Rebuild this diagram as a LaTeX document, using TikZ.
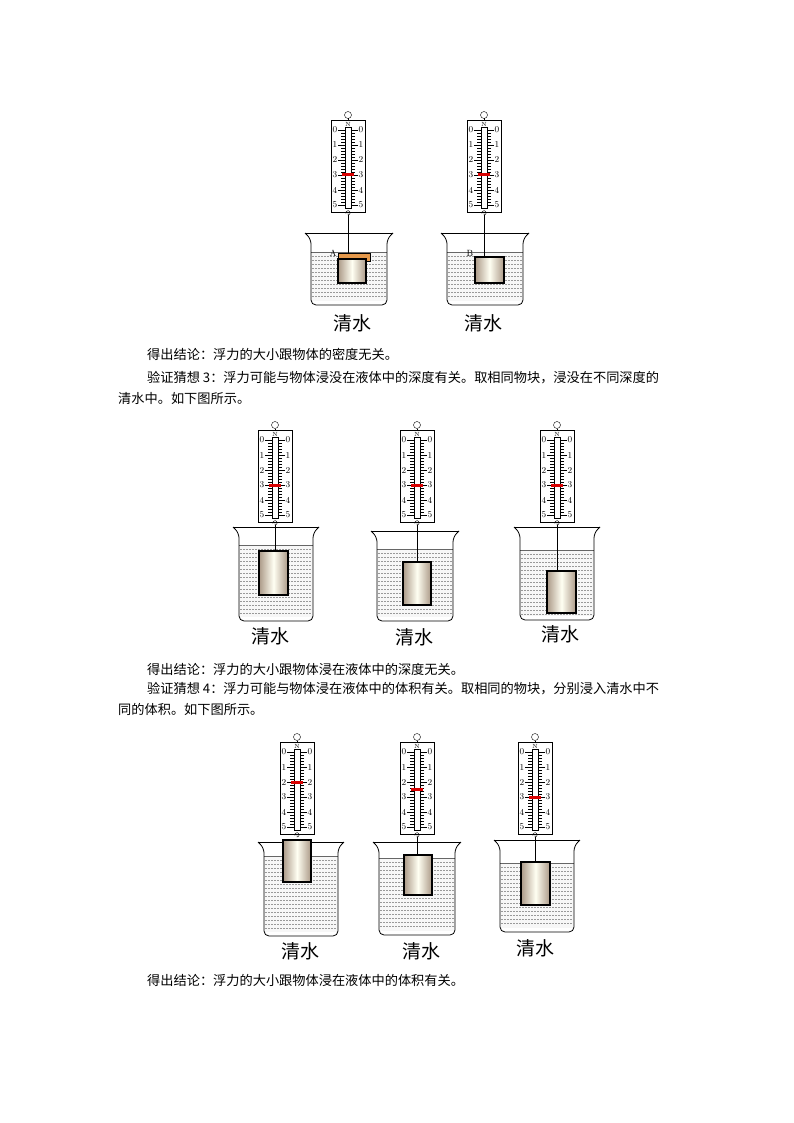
\documentclass[tikz,border=0pt]{standalone}
\usepackage{fontspec}
\newfontfamily\cjk{Noto Sans CJK SC}
\begin{document}
\begin{tikzpicture}[x=1pt,y=-1pt,
  lbl/.style={font=\cjk\fontsize{19}{19}\selectfont,inner sep=0},
  para/.style={font=\cjk\fontsize{13.2}{14}\selectfont,inner sep=0,anchor=west},
  num/.style={font=\fontsize{9}{9}\selectfont,inner sep=0}]
\useasboundingbox (0,0) rectangle (794,1123);
\newcommand\myscale[3]{%
  \draw[fill=white] (#1-17,#2) rectangle (#1+17,#2+92);
  \draw (#1,#2-5) circle (3.5);
  \draw (#1,#2-1.5)--(#1,#2);
  \draw (#1-3,#2+7) rectangle (#1+3,#2+88);
  \node[num,font=\fontsize{6}{6}\selectfont] at (#1,#2+4) {N};
  \foreach \i in {0,...,5}{
    \node[num] at (#1-13,#2+10+\i*15) {\i};
    \node[num] at (#1+13,#2+10+\i*15) {\i};
    \draw (#1-10,#2+10+\i*15)--(#1-3,#2+10+\i*15);
    \draw (#1+10,#2+10+\i*15)--(#1+3,#2+10+\i*15);
  }
  \foreach \j in {0,...,25}{
    \draw[line width=0.5pt] (#1-7,#2+10+\j*3)--(#1-3,#2+10+\j*3);
    \draw[line width=0.5pt] (#1+7,#2+10+\j*3)--(#1+3,#2+10+\j*3);
  }
  \fill[red!85!black] (#1-6,#2+8.5+#3*15) rectangle (#1+6,#2+11.5+#3*15);
  \draw (#1,#2+92)--(#1,#2+95) arc (90:-200:2.2);
}
\newcommand\mybeaker[5]{% left right top bottom water
  \fill[gray!6] (#1+6,#5) rectangle (#2-6,#4-4);
  \foreach \yy in {4,8,...,100}{
    \pgfmathparse{(#5+\yy<#4-5)?1:0}
    \ifnum\pgfmathresult=1
      \draw[gray!80,line width=0.6pt,dash pattern=on 1.5pt off 1.5pt] (#1+7,#5+\yy)--(#2-7,#5+\yy);
    \fi}
  \draw[gray!80!black] (#1+6,#5)--(#2-6,#5);
  \draw[line width=0.8pt,rounded corners=5pt] (#1,#3)--(#1+6,#3+6)--(#1+6,#4)--(#2-6,#4)--(#2-6,#3+6)--(#2,#3);
  \draw[line width=0.8pt] (#1,#3)--(#2,#3);
}
\newcommand\myblock[4]{%
  \draw[line width=1.3pt,left color=brown!35!gray!80,right color=brown!35!gray!80,middle color=yellow!5] (#1,#2) rectangle (#3,#4);
}
% row 1
\myscale{348}{120}{3}
\myscale{484}{120}{3}
\mybeaker{305}{393}{233}{305}{252}
\mybeaker{441}{529}{233}{305}{252}
\draw (348,215)--(348,253);
\draw (484,215)--(484,257);
\draw[fill=orange!50!brown!80] (338,253) rectangle (370,261);
\myblock{338}{259}{366}{283}
\myblock{475}{257}{504}{283}
\node[num] at (333,253) {A};
\node[num] at (470,253) {B};
\node[lbl] at (352,323) {清水};
\node[lbl] at (483,323) {清水};
\node[para] at (147,354) {得出结论：浮力的大小跟物体的密度无关。};
\node[para] at (147,378) {验证猜想 3：浮力可能与物体浸没在液体中的深度有关。取相同物块，浸没在不同深度的};
\node[para] at (118,398) {清水中。如下图所示。};
% row 2
\myscale{275}{430}{3}
\myscale{417}{430}{3}
\myscale{557}{430}{3}
\mybeaker{233}{319}{527}{621}{545}
\mybeaker{371}{459}{531}{621}{549}
\mybeaker{514}{600}{527}{620}{550}
\draw (275,525)--(275,551);
\draw (417,525)--(417,562);
\draw (557,525)--(557,571);
\myblock{259}{551}{288}{595}
\myblock{403}{562}{431}{605}
\myblock{547}{571}{576}{613}
\node[lbl] at (270,636) {清水};
\node[lbl] at (414,637) {清水};
\node[lbl] at (560,634) {清水};
\node[para] at (147,669) {得出结论：浮力的大小跟物体浸在液体中的深度无关。};
\node[para] at (147,689) {验证猜想 4：浮力可能与物体浸在液体中的体积有关。取相同的物块，分别浸入清水中不};
\node[para] at (118,709) {同的体积。如下图所示。};
% row 3
\myscale{297}{742}{2}
\myscale{417}{742}{2.5}
\myscale{535}{742}{3}
\mybeaker{258}{344}{842}{936}{856}
\mybeaker{373}{461}{842}{935}{858}
\mybeaker{494}{580}{840}{932}{863}
\draw (417,837)--(417,855);
\draw (535,837)--(535,862);
\myblock{283}{840}{311}{882}
\myblock{404}{855}{432}{895}
\myblock{521}{862}{550}{905}
\node[lbl] at (300,951) {清水};
\node[lbl] at (421,951) {清水};
\node[lbl] at (535,948) {清水};
\node[para] at (147,980) {得出结论：浮力的大小跟物体浸在液体中的体积有关。};
\end{tikzpicture}
\end{document}
